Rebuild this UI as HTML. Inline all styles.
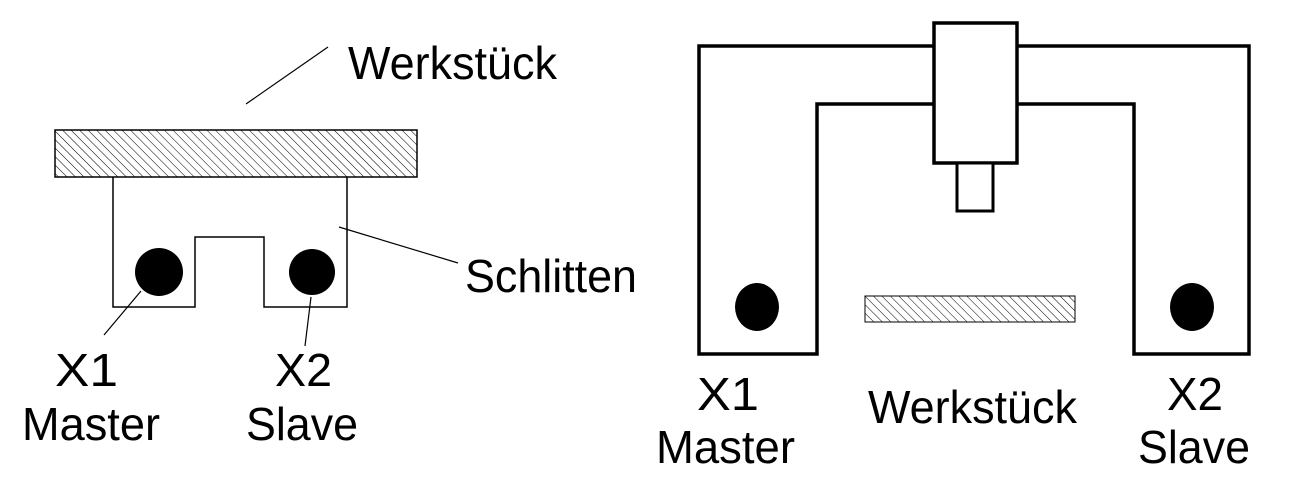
<!DOCTYPE html>
<html><head><meta charset="utf-8"><style>html,body{margin:0;padding:0;background:#fff}svg{display:block}</style></head>
<body>
<svg width="1289" height="484" viewBox="0 0 1289 484" xmlns="http://www.w3.org/2000/svg">
<defs>
<pattern id="h" patternUnits="userSpaceOnUse" width="6" height="6" patternTransform="rotate(-45)">
<line x1="0" y1="0" x2="0" y2="6" stroke="#000" stroke-width="1"/>
</pattern>
</defs>
<g font-family="Liberation Sans, Arial, sans-serif" font-size="46" fill="#000">
<!-- left -->
<rect x="55" y="130" width="362" height="47" fill="url(#h)" stroke="#000" stroke-width="1.5"/>
<polyline points="113,177 113,307 195,307 195,237 264,237 264,307 347,307 347,177" fill="none" stroke="#000" stroke-width="1.5"/>
<circle cx="159" cy="272" r="24"/>
<circle cx="312" cy="272" r="23"/>
<g stroke="#000" stroke-width="1.2">
<line x1="328" y1="47" x2="246" y2="104"/>
<line x1="339" y1="227" x2="458" y2="263"/>
<line x1="141" y1="291" x2="104" y2="335"/>
<line x1="311" y1="297" x2="305" y2="346"/>
</g>
<text x="348" y="79" textLength="209" lengthAdjust="spacingAndGlyphs">Werkstück</text>
<text x="465" y="292" textLength="172" lengthAdjust="spacingAndGlyphs">Schlitten</text>
<text x="55" y="386" textLength="63" lengthAdjust="spacingAndGlyphs">X1</text>
<text x="22" y="440" textLength="138" lengthAdjust="spacingAndGlyphs">Master</text>
<text x="275" y="386" textLength="57" lengthAdjust="spacingAndGlyphs">X2</text>
<text x="246" y="440" textLength="112" lengthAdjust="spacingAndGlyphs">Slave</text>
<!-- right -->
<polygon points="699,46 1249,46 1249,354 1134,354 1134,104 817,104 817,354 699,354" fill="none" stroke="#000" stroke-width="3.5"/>
<rect x="934" y="23" width="83" height="140" fill="#fff" stroke="#000" stroke-width="3.5"/>
<rect x="957" y="163" width="36" height="48" fill="#fff" stroke="#000" stroke-width="3"/>
<rect x="865" y="296" width="210" height="26" fill="url(#h)" stroke="#000" stroke-width="1"/>
<ellipse cx="757" cy="307" rx="22" ry="24"/>
<ellipse cx="1192" cy="307" rx="22" ry="24"/>
<text x="697" y="410" textLength="62" lengthAdjust="spacingAndGlyphs">X1</text>
<text x="656" y="463" textLength="139" lengthAdjust="spacingAndGlyphs">Master</text>
<text x="868" y="423" textLength="209" lengthAdjust="spacingAndGlyphs">Werkstück</text>
<text x="1167" y="410" textLength="56" lengthAdjust="spacingAndGlyphs">X2</text>
<text x="1138" y="463" textLength="112" lengthAdjust="spacingAndGlyphs">Slave</text>
</g>
</svg>
</body></html>
